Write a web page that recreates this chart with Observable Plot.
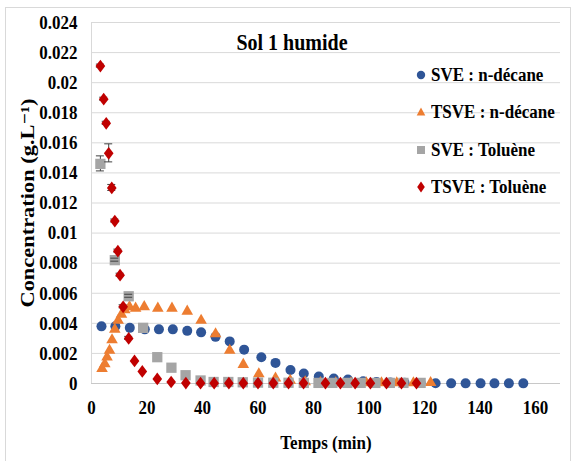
<!DOCTYPE html>
<html>
<head>
<meta charset="utf-8">
<script src="https://cdn.jsdelivr.net/npm/d3@7"></script>
<script src="https://cdn.jsdelivr.net/npm/@observablehq/plot@0.6"></script>
<style>
  html, body { margin: 0; padding: 0; background: #fff; }
  #wrap { position: relative; width: 576px; height: 461px; overflow: hidden; font-family: "Liberation Serif", "DejaVu Serif", "Noto Serif", serif; }
  #border { position: absolute; left: 5px; top: 7px; width: 566px; height: 470px; border: 1px solid #d9d9d9; box-sizing: border-box; }
  #chart { position: absolute; left: 0; top: 0; }
  #title { position: absolute; left: 192px; width: 200px; top: 32px; text-align: center; font-size: 20px; font-weight: bold; line-height: 20px; transform: scaleY(1.15); color: #000; }
  .leg { position: absolute; left: 414px; height: 20px; display: flex; align-items: center; font-size: 17px; font-weight: bold; color: #000; white-space: nowrap; }
  .leg svg { width: 14px; height: 14px; margin-right: 3px; }
  .leg span { display: inline-block; transform: scaleY(1.15); }
</style>
</head>
<body>
<div id="wrap">
  <div id="border"></div>
  <div id="chart"></div>
  <div id="title"></div>
  <div id="legend"></div>
</div>
<script>
// ---- data ----
const chartTitle = "Sol 1 humide";
const xLabel = "Temps (min)";
const yLabel = "Concentration (g.L\u207B\u00B9)";

const seriesNames = ["SVE : n-décane", "TSVE : n-décane", "SVE : Toluène", "TSVE : Toluène"];
const seriesColors = ["#2F5597", "#ED7D31", "#A5A5A5", "#C00000"];

const xTicks = [0, 20, 40, 60, 80, 100, 120, 140, 160];
const yTicks = [0, 0.002, 0.004, 0.006, 0.008, 0.01, 0.012, 0.014, 0.016, 0.018, 0.02, 0.022, 0.024];
const yTickLabels = ["0", "0.002", "0.004", "0.006", "0.008", "0.01", "0.012", "0.014", "0.016", "0.018", "0.02", "0.022", "0.024"];

// SVE : n-décane
const sveDecaneT = [3.6, 8.6, 13.8, 19.2, 24.3, 29.3, 34.5, 39.5, 44.7, 49.8, 55.0, 61.2, 66.3, 71.7, 76.5, 81.9, 87.3, 92.4, 97.9, 102.7, 107.7, 112.8, 118.6, 124.0, 129.6, 134.8, 140.2, 145.2, 150.4, 155.6];
const sveDecaneC = [0.0038, 0.0038, 0.0037, 0.0036, 0.0036, 0.0036, 0.0035, 0.0034, 0.0031, 0.0028, 0.00225, 0.00175, 0.00137, 0.0009, 0.00067, 0.00047, 0.00033, 0.00026, 0.00015, 0.0001, 0.00007, 0.00005, 0.00003, 0.00002, 0.00001, 0.00001, 0.00001, 0.00001, 0.00001, 0.00001];

// TSVE : n-décane
const tsveDecaneT = [3.8, 4.8, 5.6, 6.5, 7.4, 8.4, 9.6, 10.8, 12.0, 13.7, 15.9, 19.0, 23.9, 29.0, 34.5, 39.5, 44.7, 49.8, 54.7, 60.3, 66.3, 71.6, 77.0, 82.5, 88.0, 93.5, 99.0, 104.5, 110.0, 116.0, 122.2];
const tsveDecaneC = [0.00098, 0.0013, 0.00175, 0.0022, 0.0029, 0.0036, 0.0042, 0.0046, 0.0049, 0.0051, 0.0050, 0.0051, 0.0050, 0.0050, 0.0048, 0.0042, 0.0033, 0.0022, 0.00126, 0.00064, 0.00035, 0.0002, 0.0001, 0.00005, 0.00004, 0.00004, 0.00004, 0.00004, 0.00004, 0.00004, 0.00005];

// SVE : Toluène
const sveTolueneT = [3.2, 8.4, 13.4, 18.6, 23.7, 28.8, 33.9, 39.3, 44.0, 49.3, 54.5, 60.0, 65.5, 71.0, 76.5, 81.8, 86.8, 92.2, 97.0, 102.3, 107.5, 112.4, 118.6];
const sveTolueneC = [0.0146, 0.0082, 0.0058, 0.0037, 0.00175, 0.00105, 0.00055, 0.0002, 0.0001, 0.0001, 0.00008, 0.00006, 0.00005, 0.00005, 0.00004, 0.00004, 0.00004, 0.00004, 0.00004, 0.00004, 0.00004, 0.00004, 0.00004];
const sveTolueneErr = [0.0005, 0.0001, 0.0001, 0, 0, 0, 0, 0, 0, 0, 0, 0, 0, 0, 0, 0, 0, 0, 0, 0, 0, 0, 0];

// TSVE : Toluène
const tsveTolueneT = [3.2, 4.4, 5.3, 6.2, 7.3, 8.4, 9.5, 10.3, 11.4, 13.4, 15.5, 18.3, 23.7, 28.7, 34.0, 39.3, 44.2, 49.5, 54.7, 60.0, 65.5, 71.0, 76.4, 84.3, 89.7, 95.0, 100.5, 106.3, 111.7, 117.1];
const tsveTolueneC = [0.0211, 0.0189, 0.0173, 0.0153, 0.0130, 0.0108, 0.0088, 0.0072, 0.0051, 0.0030, 0.0015, 0.0008, 0.0003, 0.0001, 0.00003, 0.00002, 0.00002, 0.00002, 0.00002, 0.00002, 0.00002, 0.00002, 0.00002, 0.00002, 0.00002, 0.00002, 0.00002, 0.00002, 0.00002, 0.00002];
const tsveTolueneErr = [0.0001, 0.0001, 0.0001, 0.0006, 0.0002, 0.0001, 0.0001, 0.0001, 0.0001, 0.0001, 0, 0, 0, 0, 0, 0, 0, 0, 0, 0, 0, 0, 0, 0, 0, 0, 0, 0, 0, 0];

// ---- build tables ----
function table(t, c, err, k) {
  return t.map((x, i) => ({t: x, c: c[i], e: err ? err[i] : 0, s: k}));
}
const dBlue = table(sveDecaneT, sveDecaneC, null, 0);
const dOrange = table(tsveDecaneT, tsveDecaneC, null, 1);
const dGray = table(sveTolueneT, sveTolueneC, sveTolueneErr, 2);
const dRed = table(tsveTolueneT, tsveTolueneC, tsveTolueneErr, 3);
const withErr = [...dGray, ...dRed].filter(d => d.e > 0);

// wider rhombus than d3's default diamond
const wideDiamond = {
  draw(context, size) {
    const b = Math.sqrt(size / 1.5), a = 0.76 * b;
    context.moveTo(0, -b);
    context.lineTo(a, 0);
    context.lineTo(0, b);
    context.lineTo(-a, 0);
    context.closePath();
  }
};
const seriesSymbols = ["circle", "triangle", "square", wideDiamond];
const sizes = [5, 4.3, 5.8, 4.4];
function dots(data, k) {
  return Plot.dot(data, {x: "t", y: "c", symbol: seriesSymbols[k], r: sizes[k], fill: seriesColors[k], stroke: "none"});
}
const errStyle = {stroke: "#404040", strokeWidth: 1};

const svg = Plot.plot({
  width: 576,
  height: 461,
  marginLeft: 91,
  marginRight: 16,
  marginTop: 22,
  marginBottom: 78,
  style: {fontFamily: "'Liberation Serif', 'DejaVu Serif', 'Noto Serif', serif", fontSize: "17px", fontWeight: "bold", color: "#000", background: "transparent", overflow: "visible"},
  x: {type: "linear", domain: [0, 169], ticks: xTicks, tickSize: 0, tickPadding: 18, label: xLabel, labelAnchor: "center", labelOffset: 65, labelArrow: "none"},
  y: {type: "linear", domain: [0, 0.024], ticks: yTicks, tickFormat: d => yTickLabels[yTicks.indexOf(d)], tickSize: 0, tickPadding: 14, label: yLabel, labelAnchor: "center", labelOffset: 71, labelArrow: "none"},
  marks: [
    Plot.gridY(yTicks, {stroke: "#d9d9d9", strokeOpacity: 1, strokeWidth: 1}),
    Plot.ruleX([0], {stroke: "#d9d9d9"}),
    Plot.ruleY([0], {stroke: "#c8c8c8"}),
    dots(dBlue, 0),
    dots(dOrange, 1),
    Plot.ruleX(withErr.filter(d => d.s === 2), {x: "t", y1: d => d.c - d.e, y2: d => d.c + d.e, ...errStyle}),
    dots(dGray, 2),
    Plot.ruleX(withErr.filter(d => d.s === 3), {x: "t", y1: d => d.c - d.e, y2: d => d.c + d.e, ...errStyle}),
    dots(dRed, 3)
  ]
});
document.getElementById("chart").append(svg);

// error bar caps: short horizontal lines placed through the Plot scales
const xs = svg.scale("x"), ys = svg.scale("y");
const capG = d3.create("svg:g").attr("stroke", "#404040").attr("stroke-width", 1);
withErr.forEach(d => {
  [d.c - d.e, d.c + d.e].forEach(v => {
    const px = xs.apply(d.t), py = ys.apply(v);
    capG.append("line").attr("x1", px - 4).attr("x2", px + 4).attr("y1", py).attr("y2", py);
  });
});
const dotGroups = svg.querySelectorAll('g[aria-label="dot"]');
svg.insertBefore(capG.node(), dotGroups[dotGroups.length - 1]);

// larger y-axis title
svg.querySelectorAll('g[aria-label="y-axis label"] text').forEach(t => t.setAttribute("font-size", "19.5px"));
svg.querySelectorAll('g[aria-label="y-axis label"]').forEach(g => g.setAttribute("font-size", "19.5px"));

// vertical stretch of texts, like the reference
const S = 1.15;
svg.querySelectorAll("text").forEach(t => {
  const r = t.getBoundingClientRect();
  const p = t.parentNode;
  const m = p.getScreenCTM();
  const cx = r.x + r.width / 2 - m.e, cy = r.y + r.height / 2 - m.f;
  const g = document.createElementNS("http://www.w3.org/2000/svg", "g");
  g.setAttribute("transform", `translate(${cx},${cy}) scale(1,${S}) translate(${-cx},${-cy})`);
  p.insertBefore(g, t);
  g.appendChild(t);
});

document.getElementById("title").textContent = chartTitle;

// legend
const legTops = [65, 102, 140, 177];
const shapes = [
  c => `<circle cx="7" cy="7" r="4.2" fill="${c}"/>`,
  c => `<path d="M7,2.5 L11.3,10.5 L2.7,10.5 Z" fill="${c}"/>`,
  c => `<rect x="3" y="3" width="8" height="8" fill="${c}"/>`,
  c => `<path d="M7,1.5 L10.8,7 L7,12.5 L3.2,7 Z" fill="${c}"/>`
];
const leg = document.getElementById("legend");
seriesNames.forEach((n, i) => {
  const div = document.createElement("div");
  div.className = "leg";
  div.style.top = legTops[i] + "px";
  div.innerHTML = `<svg viewBox="0 0 14 14">${shapes[i](seriesColors[i])}</svg><span>${n}</span>`;
  leg.appendChild(div);
});
</script>
</body>
</html>
